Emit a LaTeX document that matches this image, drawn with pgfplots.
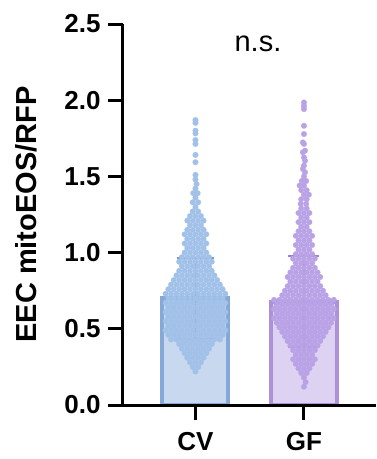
\documentclass[border=0pt]{standalone}
\usepackage{pgfplots}
\usepackage{pgfplotstable}
\pgfplotsset{compat=1.18}
\usepackage{fontspec}
\setmainfont{Liberation Sans}
\definecolor{cvfill}{RGB}{200,216,239}
\definecolor{cvline}{RGB}{133,168,214}
\definecolor{cvdot}{RGB}{162,193,233}
\definecolor{cverr}{RGB}{118,156,210}
\definecolor{gffill}{RGB}{222,210,242}
\definecolor{gfline}{RGB}{172,145,215}
\definecolor{gfdot}{RGB}{186,162,230}
\definecolor{gferr}{RGB}{156,128,210}

% CV swarm: y value and horizontal offsets of the points in that row
\pgfplotstableread[row sep=\\]{
y x1 x2 x3 x4 x5 x6 x7 x8 x9 x10 x11 x12\\
.22 0 nan nan nan nan nan nan nan nan nan nan nan\\
.25 -.025 .025 nan nan nan nan nan nan nan nan nan nan\\
.28 0 -.05 .05 nan nan nan nan nan nan nan nan nan\\
.31 -.025 .025 -.075 .075 nan nan nan nan nan nan nan nan\\
.34 0 -.05 .05 -.1 .1 nan nan nan nan nan nan nan\\
.37 -.025 .025 -.075 .075 -.125 .125 nan nan nan nan nan nan\\
.40 0 -.05 .05 -.1 .1 -.15 .15 nan nan nan nan nan\\
.43 -.025 .025 -.075 .075 -.125 .125 -.175 .175 -.225 .225 nan nan\\
.46 0 -.05 .05 -.1 .1 -.15 .15 -.2 .2 -.25 .25 nan\\
.49 -.025 .025 -.075 .075 -.125 .125 -.175 .175 -.225 .225 -.275 .275\\
.52 0 -.05 .05 -.1 .1 -.15 .15 -.2 .2 -.25 .25 nan\\
.55 -.025 .025 -.075 .075 -.125 .125 -.175 .175 -.225 .225 -.275 .275\\
.58 0 -.05 .05 -.1 .1 -.15 .15 -.2 .2 -.25 .25 nan\\
.61 -.025 .025 -.075 .075 -.125 .125 -.175 .175 -.225 .225 -.275 .275\\
.64 0 -.05 .05 -.1 .1 -.15 .15 -.2 .2 -.25 .25 nan\\
.67 -.025 .025 -.075 .075 -.125 .125 -.175 .175 -.225 .225 -.275 .275\\
.70 0 -.05 .05 -.1 .1 -.15 .15 -.2 .2 -.25 .25 nan\\
.73 -.025 .025 -.075 .075 -.125 .125 -.175 .175 -.225 .225 -.275 .275\\
.76 0 -.05 .05 -.1 .1 -.15 .15 -.2 .2 -.25 .25 nan\\
.79 -.025 .025 -.075 .075 -.125 .125 -.175 .175 -.225 .225 nan nan\\
.82 0 -.05 .05 -.1 .1 -.15 .15 -.2 .2 nan nan nan\\
.85 -.025 .025 -.075 .075 -.125 .125 -.175 .175 nan nan nan nan\\
.88 0 -.05 .05 -.1 .1 -.15 .15 nan nan nan nan nan\\
.91 -.025 .025 -.075 .075 -.125 .125 nan nan nan nan nan nan\\
.94 0 -.05 .05 -.1 .1 -.15 .15 nan nan nan nan nan\\
.97 -.025 .025 -.075 .075 -.125 .125 nan nan nan nan nan nan\\
1.00 0 -.05 .05 -.1 .1 nan nan nan nan nan nan nan\\
1.03 -.025 .025 -.075 .075 nan nan nan nan nan nan nan nan\\
1.06 0 -.05 .05 -.1 .1 nan nan nan nan nan nan nan\\
1.09 -.025 .025 -.075 .075 nan nan nan nan nan nan nan nan\\
1.12 0 -.05 .05 -.1 .1 nan nan nan nan nan nan nan\\
1.15 -.025 .025 -.075 .075 nan nan nan nan nan nan nan nan\\
1.18 0 -.05 .05 nan nan nan nan nan nan nan nan nan\\
1.21 -.025 .025 -.075 .075 nan nan nan nan nan nan nan nan\\
1.24 0 -.05 .05 nan nan nan nan nan nan nan nan nan\\
1.27 -.025 .025 nan nan nan nan nan nan nan nan nan nan\\
1.30 0 nan nan nan nan nan nan nan nan nan nan nan\\
1.33 -.025 .025 nan nan nan nan nan nan nan nan nan nan\\
1.36 0 nan nan nan nan nan nan nan nan nan nan nan\\
1.39 -.02 .02 nan nan nan nan nan nan nan nan nan nan\\
1.42 0 nan nan nan nan nan nan nan nan nan nan nan\\
1.45 .01 nan nan nan nan nan nan nan nan nan nan nan\\
1.48 0 nan nan nan nan nan nan nan nan nan nan nan\\
1.51 0 nan nan nan nan nan nan nan nan nan nan nan\\
1.593 0 nan nan nan nan nan nan nan nan nan nan nan\\
1.641 0 nan nan nan nan nan nan nan nan nan nan nan\\
1.713 0 nan nan nan nan nan nan nan nan nan nan nan\\
1.739 0 nan nan nan nan nan nan nan nan nan nan nan\\
1.782 0 nan nan nan nan nan nan nan nan nan nan nan\\
1.800 0 nan nan nan nan nan nan nan nan nan nan nan\\
1.851 0 nan nan nan nan nan nan nan nan nan nan nan\\
1.870 0 nan nan nan nan nan nan nan nan nan nan nan\\
}\cvtable

% GF swarm
\pgfplotstableread[row sep=\\]{
y x1 x2 x3 x4 x5 x6 x7 x8 x9 x10 x11 x12\\
.12 0 nan nan nan nan nan nan nan nan nan nan nan\\
.15 .015 nan nan nan nan nan nan nan nan nan nan nan\\
.18 0 nan nan nan nan nan nan nan nan nan nan nan\\
.21 -.025 .025 nan nan nan nan nan nan nan nan nan nan\\
.24 0 -.05 .05 nan nan nan nan nan nan nan nan nan\\
.27 -.025 .025 -.075 .075 nan nan nan nan nan nan nan nan\\
.30 0 -.05 .05 -.1 .1 nan nan nan nan nan nan nan\\
.33 -.025 .025 -.075 .075 nan nan nan nan nan nan nan nan\\
.36 0 -.05 .05 -.1 .1 nan nan nan nan nan nan nan\\
.39 -.025 .025 -.075 .075 -.125 .125 nan nan nan nan nan nan\\
.42 0 -.05 .05 -.1 .1 -.15 .15 nan nan nan nan nan\\
.45 -.025 .025 -.075 .075 -.125 .125 -.175 .175 nan nan nan nan\\
.48 0 -.05 .05 -.1 .1 -.15 .15 -.2 .2 nan nan nan\\
.51 -.025 .025 -.075 .075 -.125 .125 -.175 .175 -.225 .225 nan nan\\
.54 0 -.05 .05 -.1 .1 -.15 .15 -.2 .2 -.25 .25 nan\\
.57 -.025 .025 -.075 .075 -.125 .125 -.175 .175 -.225 .225 -.275 .275\\
.60 0 -.05 .05 -.1 .1 -.15 .15 -.2 .2 -.25 .25 nan\\
.63 -.025 .025 -.075 .075 -.125 .125 -.175 .175 -.225 .225 -.275 .275\\
.66 0 -.05 .05 -.1 .1 -.15 .15 -.2 .2 -.25 .25 nan\\
.69 -.025 .025 -.075 .075 -.125 .125 -.175 .175 -.225 .225 -.275 .275\\
.72 0 -.05 .05 -.1 .1 -.15 .15 -.2 .2 nan nan nan\\
.75 -.025 .025 -.075 .075 -.125 .125 -.175 .175 nan nan nan nan\\
.78 0 -.05 .05 -.1 .1 -.15 .15 nan nan nan nan nan\\
.81 -.025 .025 -.075 .075 -.125 .125 nan nan nan nan nan nan\\
.84 0 -.05 .05 -.1 .1 -.15 .15 nan nan nan nan nan\\
.87 -.025 .025 -.075 .075 -.125 .125 nan nan nan nan nan nan\\
.90 0 -.05 .05 -.1 .1 nan nan nan nan nan nan nan\\
.93 -.025 .025 -.075 .075 nan nan nan nan nan nan nan nan\\
.96 0 -.05 .05 -.1 .1 nan nan nan nan nan nan nan\\
.99 -.025 .025 -.075 .075 nan nan nan nan nan nan nan nan\\
1.02 0 -.05 .05 nan nan nan nan nan nan nan nan nan\\
1.05 -.025 .025 -.075 .075 nan nan nan nan nan nan nan nan\\
1.08 0 -.05 .05 nan nan nan nan nan nan nan nan nan\\
1.11 -.025 .025 -.075 .075 nan nan nan nan nan nan nan nan\\
1.14 0 -.05 .05 nan nan nan nan nan nan nan nan nan\\
1.17 -.025 .025 nan nan nan nan nan nan nan nan nan nan\\
1.20 0 -.05 .05 nan nan nan nan nan nan nan nan nan\\
1.23 -.025 .025 nan nan nan nan nan nan nan nan nan nan\\
1.26 0 -.05 .05 nan nan nan nan nan nan nan nan nan\\
1.29 -.025 .025 nan nan nan nan nan nan nan nan nan nan\\
1.32 -.03 .02 nan nan nan nan nan nan nan nan nan nan\\
1.35 -.025 .025 nan nan nan nan nan nan nan nan nan nan\\
1.38 0 .045 nan nan nan nan nan nan nan nan nan nan\\
1.41 -.025 .025 nan nan nan nan nan nan nan nan nan nan\\
1.44 0 -.04 nan nan nan nan nan nan nan nan nan nan\\
1.47 -.02 .02 nan nan nan nan nan nan nan nan nan nan\\
1.50 0 nan nan nan nan nan nan nan nan nan nan nan\\
1.527 .01 nan nan nan nan nan nan nan nan nan nan nan\\
1.549 -.01 nan nan nan nan nan nan nan nan nan nan nan\\
1.571 0 nan nan nan nan nan nan nan nan nan nan nan\\
1.603 .01 nan nan nan nan nan nan nan nan nan nan nan\\
1.625 0 nan nan nan nan nan nan nan nan nan nan nan\\
1.658 -.01 nan nan nan nan nan nan nan nan nan nan nan\\
1.669 .01 nan nan nan nan nan nan nan nan nan nan nan\\
1.713 0 nan nan nan nan nan nan nan nan nan nan nan\\
1.723 -.01 nan nan nan nan nan nan nan nan nan nan nan\\
1.778 0 nan nan nan nan nan nan nan nan nan nan nan\\
1.832 0 nan nan nan nan nan nan nan nan nan nan nan\\
1.942 0 nan nan nan nan nan nan nan nan nan nan nan\\
1.963 0 nan nan nan nan nan nan nan nan nan nan nan\\
1.985 0 nan nan nan nan nan nan nan nan nan nan nan\\
}\gftable

\begin{document}
\begin{tikzpicture}
\begin{axis}[
  scale only axis,
  width=253pt, height=381pt,
  at={(0,0)}, anchor=south west,
  xmin=-0.668, xmax=1.664,
  ymin=0, ymax=2.5,
  axis x line*=bottom, axis y line*=left,
  axis line style={line width=3pt, black},
  axis on top,
  clip=false,
  tick align=outside,
  major tick length=15pt,
  tick style={line width=3pt, black},
  xtick={0,1}, xticklabels={CV,GF},
  ytick={0,0.5,1,1.5,2,2.5},
  ticklabel style={font=\fontsize{26}{26}\selectfont\bfseries},
  xticklabel style={yshift=-9pt},
  yticklabel style={xshift=-4pt, /pgf/number format/.cd, fixed, fixed zerofill, precision=1, assume math mode=true},
]
% bars (means)
\addplot[ybar, bar shift=0pt, bar width=0.608, fill=cvfill, draw=cvline, line width=4pt] coordinates {(0,0.70)};
\addplot[ybar, bar shift=0pt, bar width=0.608, fill=gffill, draw=gfline, line width=4pt] coordinates {(1,0.678)};
% swarms
\pgfplotsinvokeforeach{1,...,12}{
  \addplot[only marks, color=cvdot, mark=*, mark size=2.85pt, mark options={fill=cvdot, draw=cvdot, line width=0.1pt}]
    table[x=x#1, y=y] {\cvtable};
  \addplot[only marks, color=gfdot, mark=*, mark size=2.85pt, mark options={fill=gfdot, draw=gfdot, line width=0.1pt}]
    table[x expr=\thisrow{x#1}+1, y=y] {\gftable};
}
% SD error bars
\addplot[draw=none, mark=none, error bars/.cd, y dir=both, y explicit,
  error bar style={draw=cverr, line width=1.8pt},
  error mark options={rotate=90, draw=cverr, line width=1.8pt, mark size=18.5pt}]
  coordinates {(0,0.70) +- (0,0.263)};
\addplot[draw=none, mark=none, error bars/.cd, y dir=both, y explicit,
  error bar style={draw=gferr, line width=1.8pt},
  error mark options={rotate=90, draw=gferr, line width=1.8pt, mark size=15.5pt}]
  coordinates {(1,0.678) +- (0,0.30)};
\node[font=\fontsize{29}{29}\selectfont] at (axis cs:0.576,2.369) {n.s.};
\node[rotate=90, font=\fontsize{29}{29}\selectfont\bfseries] at ([xshift=-97pt]rel axis cs:0,0.5) {EEC mitoEOS/RFP};
\end{axis}
\pgfresetboundingbox
\useasboundingbox (-123pt,-54pt) rectangle (253pt,405pt);
\end{tikzpicture}
\end{document}
